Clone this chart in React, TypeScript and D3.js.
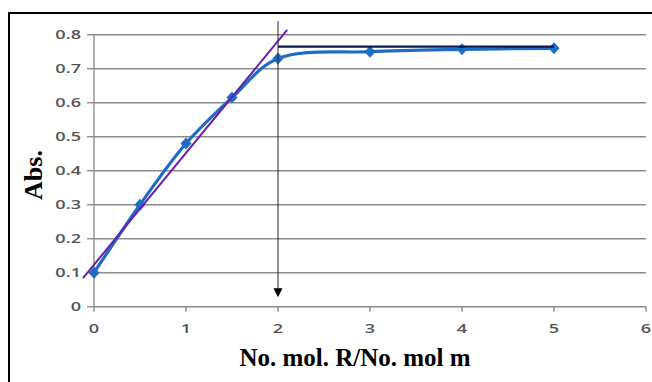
import React from 'react';
import * as d3 from 'd3';

// measured series
const ratios = [0, 0.5, 1, 1.5, 2, 3, 4, 5];
const absorbance = [0.1, 0.3, 0.48, 0.615, 0.73, 0.75, 0.757, 0.76];

// guide lines drawn on top of the series
const tangentX = [-0.12, 2.1];
const tangentY = [0.084, 0.814];
const plateauX = [2, 5];
const plateauY = [0.765, 0.765];
const arrowX = 2;
const arrowY = [0.84, 0.028];

const xTicks = [0, 1, 2, 3, 4, 5, 6];
const yTicks = [0, 0.1, 0.2, 0.3, 0.4, 0.5, 0.6, 0.7, 0.8];

const App = () => {
  const margin = { left: 94, top: 34.7, right: 6, bottom: 75.3 };
  const W = 652;
  const H = 382;

  const x = d3.scaleLinear().domain([0, 6]).range([margin.left, W - margin.right]);
  const y = d3.scaleLinear().domain([0, 0.8]).range([H - margin.bottom, margin.top]);

  const pts = ratios.map((r, i) => [r, absorbance[i]]);

  const curve = d3.line()
    .x(d => x(d[0]))
    .y(d => y(d[1]))
    .curve(d3.curveCatmullRom.alpha(0.5));

  const straight = d3.line()
    .x(d => x(d[0]))
    .y(d => y(d[1]));

  // excel-ish diamond, a bit wider than d3's
  const diamond = 'M0,-6L5.5,0L0,6L-5.5,0Z';

  const tickFont = { fontFamily: 'Open Sans, Liberation Sans, sans-serif', fontSize: 12.5, fontWeight: 600, fill: '#555' };
  const arrowEnd = y(arrowY[1]);

  return (
    <svg width={W} height={H} style={{ position: 'absolute', left: 0, top: 0, background: '#fff' }}>
      {/* frame */}
      <rect x={9} y={13} width={700} height={420} fill="none" stroke="#000" strokeWidth={2} />

      {/* gridlines */}
      {yTicks.slice(1).map(t => (
        <line key={t} x1={x(0)} x2={x(6)} y1={y(t)} y2={y(t)} stroke="#8c8c8c" strokeWidth={1.4} />
      ))}

      {/* y axis */}
      <line x1={x(0)} x2={x(0)} y1={y(0)} y2={y(0.8)} stroke="#8c8c8c" strokeWidth={1.4} />
      {yTicks.map(t => (
        <g key={t}>
          <line x1={x(0) - 7} x2={x(0)} y1={y(t)} y2={y(t)} stroke="#8c8c8c" strokeWidth={1.4} />
          <text transform={`translate(${x(0) - 13},${y(t)})scale(1.45,1)`} dy="0.35em" textAnchor="end" {...tickFont}>{+t.toFixed(1)}</text>
        </g>
      ))}

      {/* x axis */}
      <line x1={x(0)} x2={x(6)} y1={y(0)} y2={y(0)} stroke="#8c8c8c" strokeWidth={1.4} />
      {xTicks.map(t => (
        <g key={t}>
          <line x1={x(t)} x2={x(t)} y1={y(0)} y2={y(0) + 5} stroke="#8c8c8c" strokeWidth={1.4} />
          <text transform={`translate(${x(t)},${y(0) + 26})scale(1.45,1)`} textAnchor="middle" {...tickFont}>{t}</text>
        </g>
      ))}

      {/* series */}
      <path d={curve(pts) || ''} fill="none" stroke="#1f6cc4" strokeWidth={3.2} />
      {pts.map((p, i) => (
        <path key={i} d={diamond} transform={`translate(${x(p[0])},${y(p[1])})`} fill="#1f6cc4" />
      ))}

      {/* tangent */}
      <path d={straight(tangentX.map((v, i) => [v, tangentY[i]])) || ''} stroke="#6a1fa8" strokeWidth={2} fill="none" />
      {/* plateau */}
      <path d={straight(plateauX.map((v, i) => [v, plateauY[i]])) || ''} stroke="#0b1a4a" strokeWidth={2.2} fill="none" />
      {/* arrow */}
      <line x1={x(arrowX)} x2={x(arrowX)} y1={y(arrowY[0])} y2={arrowEnd - 8} stroke="#222" strokeWidth={1} />
      <path d={`M${x(arrowX) - 4.5},${arrowEnd - 9} L${x(arrowX) + 4.5},${arrowEnd - 9} L${x(arrowX)},${arrowEnd} Z`} fill="#000" />

      {/* titles */}
      <text x={355} y={366} textAnchor="middle" fontFamily="Liberation Serif, Times New Roman, serif" fontWeight="bold" fontSize={25}>No. mol. R/No. mol m</text>
      <text transform="translate(42,175)rotate(-90)" textAnchor="middle" fontFamily="Liberation Serif, Times New Roman, serif" fontWeight="bold" fontSize={26}>Abs.</text>
    </svg>
  );
};

export default App;
